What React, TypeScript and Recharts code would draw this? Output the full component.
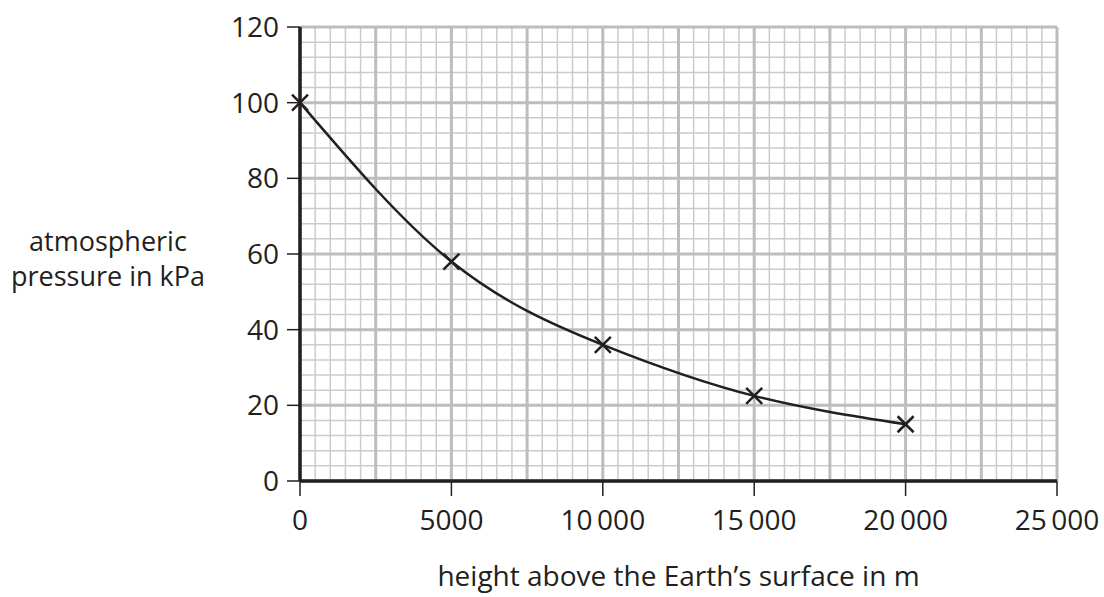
import React from "react";
import { LineChart, Line, XAxis, YAxis, CartesianGrid, Label } from "recharts";

const heights = [0, 5000, 10000, 15000, 20000];
const pressures = [100, 58, 36, 22.5, 15];

const xTicks = [0, 5000, 10000, 15000, 20000, 25000];
const yTicks = [0, 20, 40, 60, 80, 100, 120];

// graph paper: minor every 500 m / 4 kPa, major every 2500 m / 20 kPa
const xMinor = Array.from({ length: 51 }, (_, i) => i * 500);
const yMinor = Array.from({ length: 31 }, (_, i) => i * 4);
const xMajor = Array.from({ length: 11 }, (_, i) => i * 2500);
const yMajor = yTicks;

const data = heights.map((h, i) => ({ h, p: pressures[i] }));

const ink = "#231f20";
const font = "'Open Sans', sans-serif";

const fmt = (v: number) => (v >= 10000 ? `${Math.floor(v / 1000)}\u2009000` : `${v}`);

function Cross(props: any) {
  const { cx, cy } = props;
  if (cx == null || cy == null) return null;
  const s = 8;
  return (
    <g stroke={ink} strokeWidth={2.5}>
      <line x1={cx - s} y1={cy - s} x2={cx + s} y2={cy + s} />
      <line x1={cx - s} y1={cy + s} x2={cx + s} y2={cy - s} />
    </g>
  );
}

function YLabel() {
  return (
    <text textAnchor="middle" fill={ink} fontFamily={font} fontSize={27}>
      <tspan x={108} y={251}>atmospheric</tspan>
      <tspan x={108} y={286}>pressure in kPa</tspan>
    </text>
  );
}

export default function App() {
  return (
    <div style={{ position: "absolute", left: 0, top: 0, width: 1104, height: 597, background: "#fff" }}>
      <LineChart width={1104} height={597} data={data} margin={{ top: 27, right: 47, left: 240, bottom: 76 }}>
        <CartesianGrid stroke="#cbcbcd" strokeWidth={1.5} horizontalValues={yMinor} verticalValues={xMinor} />
        <CartesianGrid stroke="#bdbdc0" strokeWidth={3} horizontalValues={yMajor} verticalValues={xMajor} />
        <XAxis
          dataKey="h"
          type="number"
          domain={[0, 25000]}
          ticks={xTicks}
          tickFormatter={fmt}
          interval={0}
          height={40}
          axisLine={{ stroke: ink, strokeWidth: 3.5 }}
          tickLine={{ stroke: ink, strokeWidth: 1.5 }}
          tickSize={15}
          tick={{ fill: ink, fontSize: 28, fontFamily: font, dy: 12 }}
        >
          <Label
            value="height above the Earth’s surface in m"
            position="insideBottom"
            offset={-65}
            fill={ink}
            fontSize={28}
            fontFamily={font}
          />
        </XAxis>
        <YAxis
          type="number"
          domain={[0, 120]}
          ticks={yTicks}
          interval={0}
          width={60}
          axisLine={{ stroke: ink, strokeWidth: 3.5 }}
          tickLine={{ stroke: ink, strokeWidth: 1.5 }}
          tickSize={13}
          tickMargin={8}
          tick={{ fill: ink, fontSize: 28, fontFamily: font }}
        >
          <Label content={<YLabel />} />
        </YAxis>
        <Line
          type="natural"
          dataKey="p"
          stroke={ink}
          strokeWidth={2.5}
          dot={<Cross />}
          activeDot={false}
          isAnimationActive={false}
        />
      </LineChart>
    </div>
  );
}
